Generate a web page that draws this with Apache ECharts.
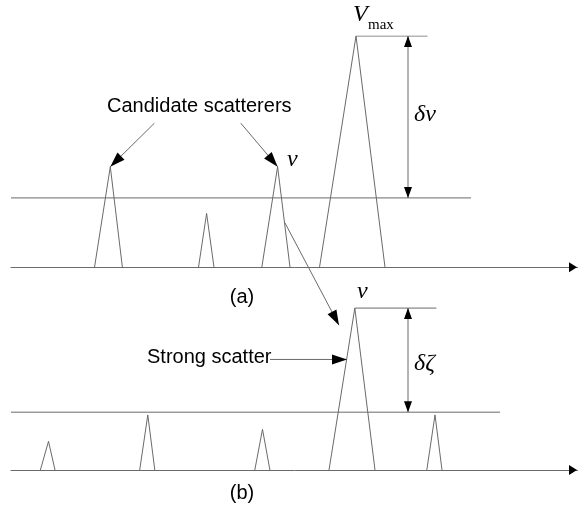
<!DOCTYPE html>
<html><head><meta charset="utf-8">
<script src="https://cdn.jsdelivr.net/npm/echarts@6/dist/echarts.min.js"></script>
<style>html,body{margin:0;padding:0;background:#fff}#c{width:578px;height:515px}</style>
</head><body><div id="c"></div>
<script>
// Peaks: [leftFoot, apexPosition, rightFoot, amplitude]  (amplitude units: Vmax = 100)
const peaksA = [[94.5,110.3,122.4,43.5],[198.5,206.6,214,23.3],[261.8,277.6,290,43.5],[319.5,356,385,100]];
const peaksB = [[40.4,48.5,55,12.4],[139.7,147.8,154.8,23.8],[254.8,262.5,269.9,17.6],[329,354.8,375,70],[426.8,435,442,23.8]];
const thresholdA = 30, thresholdB = 25;
const thresholdRangeA = [11, 471], thresholdRangeB = [11, 500];
const axisRange = [11, 578];
const topLineA = [356, 427.6, 100];   // Vmax reference line [from, to, level]
const topLineB = [354.8, 436.4, 70];  // v reference line
const deltaXA = 408, deltaXB = 408;
const candidateArrowStarts = [[154.4, 62.3], [240.8, 62.3]];
const crossArrow = [[285, 106.8], [339, 62.6]];   // in panel (b) units
const strongArrow = [[270, 47.8], [347, 47.8]];

const LC = '#6a6a6a';
const lineStyle = {color: LC, width: 1};

function peakSeries(p, gi) {
  return {type:'line', xAxisIndex:gi, yAxisIndex:gi, symbol:'none', silent:true, animation:false,
    lineStyle: lineStyle, data: [[p[0],0],[p[1],p[3]],[p[2],0]]};
}
const series = [];
peaksA.forEach(p => series.push(peakSeries(p, 0)));
peaksB.forEach(p => series.push(peakSeries(p, 1)));

const flat = (gi, data) => ({type:'line', xAxisIndex:gi, yAxisIndex:gi, symbol:'none',
  silent:true, animation:false, lineStyle, data});
series.push(flat(0, [[thresholdRangeA[0],thresholdA],[thresholdRangeA[1],thresholdA]]));
series.push(flat(0, [[topLineA[0],topLineA[2]],[topLineA[1],topLineA[2]]]));
series.push(flat(1, [[thresholdRangeB[0],thresholdB],[thresholdRangeB[1],thresholdB]]));
series.push(flat(1, [[topLineB[0],topLineB[2]],[topLineB[1],topLineB[2]]]));

// arrows: [x1, y1, x2, y2, numberOfHeads, drawShaft]
const arrowsA = [
  [deltaXA, topLineA[2], deltaXA, thresholdA, 2, 1],
  [candidateArrowStarts[0][0], candidateArrowStarts[0][1], peaksA[0][1], peaksA[0][3], 1, 1],
  [candidateArrowStarts[1][0], candidateArrowStarts[1][1], peaksA[2][1], peaksA[2][3], 1, 1],
  [axisRange[0], 0, axisRange[1] - 1, 0, 1, 0]
];
const arrowsB = [
  [deltaXB, topLineB[2], deltaXB, thresholdB, 2, 1],
  [crossArrow[0][0], crossArrow[0][1], crossArrow[1][0], crossArrow[1][1], 1, 1],
  [strongArrow[0][0], strongArrow[0][1], strongArrow[1][0], strongArrow[1][1], 1, 1],
  [axisRange[0], 0, axisRange[1] - 1, 0, 1, 0]
];

function head(tip, dx, dy, L, W) {
  const bx = tip[0] - dx * L, by = tip[1] - dy * L;
  const nx = -dy, ny = dx;
  return {type:'polygon', shape:{points:[[tip[0], tip[1]], [bx + nx*W/2, by + ny*W/2], [bx - nx*W/2, by - ny*W/2]]},
    style:{fill:'#000'}};
}
function renderArrow(params, api) {
  const p1 = api.coord([api.value(0), api.value(1)]);
  const p2 = api.coord([api.value(2), api.value(3)]);
  const n = api.value(4), shaft = api.value(5);
  const len = Math.hypot(p2[0]-p1[0], p2[1]-p1[1]);
  const dx = (p2[0]-p1[0]) / len, dy = (p2[1]-p1[1]) / len;
  let L = 15, W = 10;
  if (!shaft) { L = 8; W = 10; } else if (n === 2) { L = 11; W = 8; }
  const children = [];
  if (shaft) children.push({type:'line', shape:{x1:p1[0], y1:p1[1], x2:p2[0], y2:p2[1]},
    style:{stroke:LC, lineWidth:1}});
  children.push(head(p2, dx, dy, L, W));
  if (n === 2) children.push(head(p1, -dx, -dy, L, W));
  return {type:'group', children};
}
const arrowSeries = (gi, data) => ({type:'custom', xAxisIndex:gi, yAxisIndex:gi, silent:true, animation:false,
  renderItem: renderArrow, encode:{x:[0,2], y:[1,3]}, data, z:5});
series.push(arrowSeries(0, arrowsA));
series.push(arrowSeries(1, arrowsB));

const xAx = (gi) => ({gridIndex:gi, type:'value', min:axisRange[0], max:axisRange[1],
  axisLine:{show:true, lineStyle:{color:LC, width:1}}, axisTick:{show:false}, axisLabel:{show:false}, splitLine:{show:false}});
const yAx = (gi, max) => ({gridIndex:gi, type:'value', min:0, max, show:false, splitLine:{show:false}});

const serif = 'italic 24px "Liberation Serif", "Times New Roman", serif';
const sans = '20px "Liberation Sans", Arial, sans-serif';
function txt(t, x, y, font, align) {
  return {type:'text', x, y, silent:true, style:{text:t, font, fill:'#000', align:align||'left', verticalAlign:'middle'}};
}

const chart = echarts.init(document.getElementById('c'), null, {renderer:'canvas'});
chart.setOption({
  animation:false, backgroundColor:'#fff',
  grid:[{left:11, right:0, top:36, height:231.3}, {left:11, right:0, top:7.4, height:462.6}],
  xAxis:[xAx(0), xAx(1)],
  yAxis:[yAx(0, 100), yAx(1, 200)],
  series,
  graphic:[
    txt('V', 353, 15, serif),
    txt('max', 368, 25, '15px "Liberation Serif", "Times New Roman", serif'),
    txt('v', 287, 160, serif),
    txt('δv', 414, 115, serif),
    txt('Candidate scatterers', 107, 106, sans),
    txt('(a)', 242, 297, sans, 'center'),
    txt('v', 357, 292, serif),
    txt('δζ', 414, 364, serif),
    txt('Strong scatter', 147, 357, sans),
    txt('(b)', 242, 493, sans, 'center')
  ]
});
</script></body></html>
